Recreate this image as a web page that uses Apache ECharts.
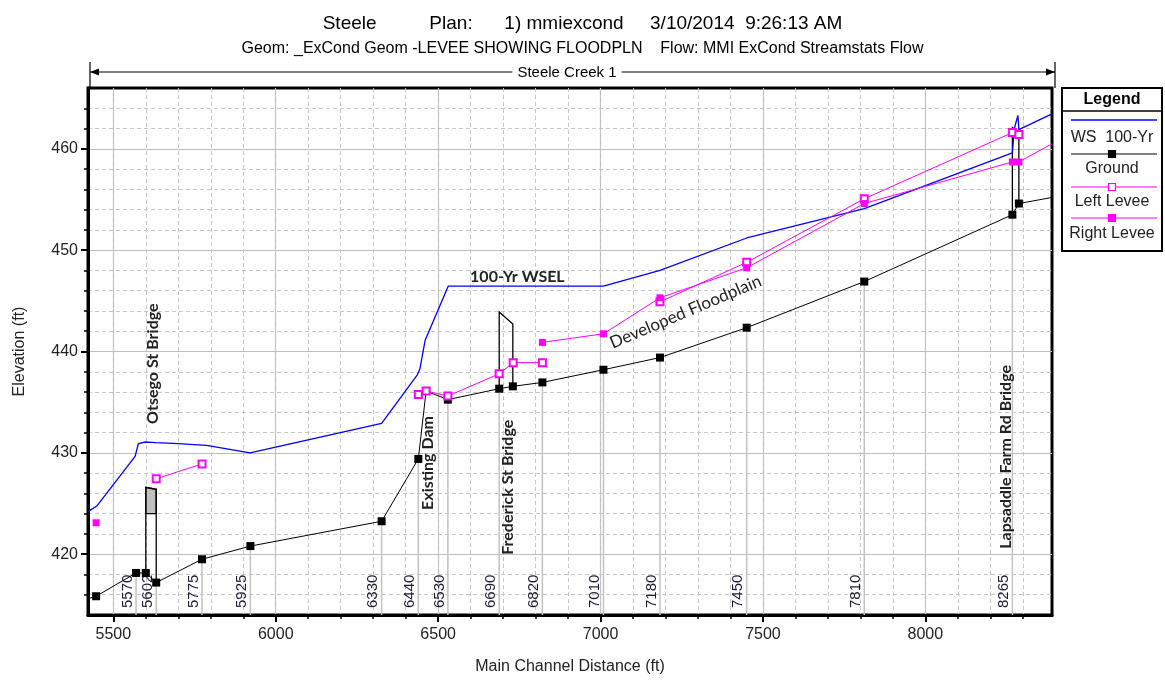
<!DOCTYPE html>
<html><head><meta charset="utf-8">
<script src="https://cdn.jsdelivr.net/npm/echarts@6/dist/echarts.min.js"></script>
<style>html,body{margin:0;padding:0;background:#fff}#c{width:1165px;height:680px}</style>
</head><body><div id="c"></div>
<script>
// ---------- data ----------
const titleMain = 'Steele          Plan:      1) mmiexcond     3/10/2014  9:26:13 AM';
const titleSub = 'Geom: _ExCond Geom -LEVEE SHOWING FLOODPLN    Flow: MMI ExCond Streamstats Flow';
const reachName = 'Steele Creek 1';
const xMin = 5422, xMax = 8390, yMin = 414, yMax = 466;
const xMajorTicks = [5500, 6000, 6500, 7000, 7500, 8000];
const xMinorTicks = [5500,5600,5700,5800,5900,6000,6100,6200,6300,6400,6500,6600,6700,6800,6900,7000,7100,7200,7300,7400,7500,7600,7700,7800,7900,8000,8100,8200,8300];
const yMajorTicks = [420, 430, 440, 450, 460];
const yMinorTicks = [416,418,420,422,424,426,428,430,432,434,436,438,440,442,444,446,448,450,452,454,456,458,460,462,464];

const wsX = [5422, 5449, 5567, 5577, 5598, 5631, 5700, 5787, 5921, 6326, 6436, 6444, 6460, 6531, 7009, 7183, 7450, 7812, 8268, 8274, 8285, 8288, 8390];
const wsY = [424.2, 424.75, 429.65, 430.9, 431.07, 431.0, 430.9, 430.74, 430.0, 432.9, 437.7, 438.3, 441.1, 446.45, 446.45, 448.0, 451.2, 454.1, 459.6, 462.0, 463.3, 461.9, 463.45];

const groundX = [5422, 5447, 5570, 5600, 5632, 5773, 5922, 6326, 6439, 6463, 6530, 6688, 6730, 6821, 7009, 7183, 7450, 7812, 8268, 8288, 8390];
const groundY = [415.6, 415.85, 418.15, 418.15, 417.2, 419.5, 420.8, 423.25, 429.4, 436.1, 435.25, 436.33, 436.56, 436.95, 438.2, 439.4, 442.35, 446.9, 453.5, 454.6, 455.2];

const leftLeveeX = [5632, 5773, 5773, 6439, 6463, 6530, 6688, 6731, 6821, 6821, 7183, 7450, 7812, 8268, 8288];
const leftLeveeY = [427.45, 428.9, null, 435.75, 436.1, 435.6, 437.8, 438.9, 438.9, null, 444.9, 448.8, 455.07, 461.6, 461.4];

const rightLeveeX = [5447, 5447, 6821, 7009, 7183, 7450, 7812, 8268, 8288, 8390];
const rightLeveeY = [423.1, null, 440.9, 441.75, 445.3, 448.26, 454.6, 458.7, 458.7, 460.5];

const stationX = [5570, 5632, 5773, 5922, 6326, 6439, 6530, 6688, 6821, 7009, 7183, 7450, 7812, 8268];
const stationLabels = ['5570', '5602', '5775', '5925', '6330', '6440', '6530', '6690', '6820', '7010', '7180', '7450', '7810', '8265'];

const bridgeUpX = [5600, 6688, 8268];
const bridgeDnX = [5632, 6730, 8288];
const bridgeUpGround = [418.15, 436.33, 453.5];
const bridgeDnGround = [417.2, 436.56, 454.6];
const bridgeTopUp = [426.6, 443.9, 462.1];
const bridgeTopDn = [426.4, 442.7, 461.6];
const bridgeLowChord = [424.0, null, null];

const annotText = ['Otsego St Bridge', 'Existing Dam', 'Frederick St Bridge', 'Lapsaddle Farm Rd Bridge', '100-Yr WSEL', 'Developed Floodplain'];
const annotX = [5622, 6469, 6714, 8248, 6744, 7262];
const annotY = [438.8, 429.0, 426.6, 429.6, 447.4, 443.9];
const annotAngle = [90, 90, 90, 90, 0, 23];

const legendNames = ['WS  100-Yr', 'Ground', 'Left Levee', 'Right Levee'];

// ---------- build ----------
const FONT = '"Liberation Sans", Arial, sans-serif';
const AFONT = 'Lato, "Open Sans", sans-serif';
function pts(xs, ys) {
  return xs.map((x, i) => {
    const y = ys[i];
    const item = { value: [x, y == null ? '-' : y] };
    if (x <= xMin || x >= xMax) item.symbol = 'none';
    return item;
  });
}
function groundAt(x) { return groundY[groundX.indexOf(x)]; }

const chart = echarts.init(document.getElementById('c'));
const G = { left: 88, top: 88, width: 964, height: 527 };

const option = {
  animation: false,
  backgroundColor: '#fff',
  title: [
    { text: titleMain, left: 'center', top: 9, textStyle: { fontFamily: FONT, fontSize: 19, fontWeight: 'normal', color: '#000' } },
    { text: titleSub, left: 'center', top: 36, textStyle: { fontFamily: FONT, fontSize: 16, fontWeight: 'normal', color: '#000' } }
  ],
  grid: { left: G.left, top: G.top, width: G.width, height: G.height, show: true, borderColor: '#000', borderWidth: 3, backgroundColor: 'transparent' },
  xAxis: [
    {
      type: 'value', min: xMin, max: xMax, position: 'bottom',
      name: 'Main Channel Distance (ft)', nameLocation: 'middle', nameGap: 44,
      nameTextStyle: { fontFamily: FONT, fontSize: 16, color: '#222' },
      axisLine: { show: true, onZero: false, lineStyle: { color: '#000', width: 3 } },
      axisTick: { show: true, customValues: xMajorTicks, length: 7, lineStyle: { color: '#000', width: 2 } },
      axisLabel: { show: true, customValues: xMajorTicks, margin: 12, fontFamily: FONT, fontSize: 16, color: '#222', formatter: v => String(v) },
      splitLine: { show: true, lineStyle: { color: '#bdbdbd', width: 1.2 } }
    },
    {
      type: 'value', min: xMin, max: xMax, position: 'bottom',
      axisLine: { show: false, onZero: false },
      axisTick: { show: true, customValues: xMinorTicks, length: 4, lineStyle: { color: '#000', width: 1.5 } },
      axisLabel: { show: false },
      splitLine: { show: true, lineStyle: { color: '#c6c6c6', width: 1, type: [4, 3] } }
    }
  ],
  yAxis: [
    {
      type: 'value', min: yMin, max: yMax, position: 'left',
      axisLine: { show: false, onZero: false },
      axisTick: { show: true, customValues: yMinorTicks, length: 4, lineStyle: { color: '#000', width: 1.5 } },
      axisLabel: { show: false },
      splitLine: { show: true, lineStyle: { color: '#c6c6c6', width: 1, type: [4, 3] } }
    },
    {
      type: 'value', min: yMin, max: yMax, position: 'left',
      name: 'Elevation (ft)', nameLocation: 'middle', nameGap: 60, nameRotate: 90,
      nameTextStyle: { fontFamily: FONT, fontSize: 16, color: '#222' },
      axisLine: { show: true, onZero: false, lineStyle: { color: '#000', width: 3 } },
      axisTick: { show: true, customValues: yMajorTicks, length: 7, lineStyle: { color: '#000', width: 2 } },
      axisLabel: { show: true, customValues: yMajorTicks, margin: 10, fontFamily: FONT, fontSize: 16, color: '#222', formatter: v => String(v) },
      splitLine: { show: true, lineStyle: { color: '#bdbdbd', width: 1.2 } }
    }
  ],
  series: [
    {
      name: 'stations', type: 'custom', xAxisIndex: 0, yAxisIndex: 1, z: 1, silent: true,
      data: stationX.map((x, i) => [x, groundAt(x), i]),
      encode: { x: 0, y: 1 },
      renderItem: function (params, api) {
        const x = api.value(0), g = api.value(1), i = api.value(2);
        const b = api.coord([x, yMin]);
        const t = api.coord([x, g]);
        return {
          type: 'group', children: [
            { type: 'line', shape: { x1: b[0], y1: b[1], x2: t[0], y2: t[1] }, style: { stroke: '#c2c2c2', lineWidth: 1.5 } },
            { type: 'text', x: b[0] - 1, y: b[1] - 7, rotation: Math.PI / 2,
              style: { text: stationLabels[i], fill: '#1d1d33', fontFamily: FONT, fontSize: 15, align: 'left', verticalAlign: 'bottom' } }
          ]
        };
      }
    },
    {
      name: 'bridges', type: 'custom', xAxisIndex: 0, yAxisIndex: 1, z: 2, silent: true,
      data: bridgeUpX.map((x, i) => [x, bridgeTopUp[i], i]),
      encode: { x: 0, y: 1 },
      renderItem: function (params, api) {
        const i = api.value(2);
        const p1 = api.coord([bridgeUpX[i], bridgeUpGround[i]]);
        const p2 = api.coord([bridgeUpX[i], bridgeTopUp[i]]);
        const p3 = api.coord([bridgeDnX[i], bridgeTopDn[i]]);
        const p4 = api.coord([bridgeDnX[i], bridgeDnGround[i]]);
        const children = [];
        if (bridgeLowChord[i] != null) {
          const l1 = api.coord([bridgeUpX[i], bridgeLowChord[i]]);
          const l2 = api.coord([bridgeDnX[i], bridgeLowChord[i]]);
          children.push({ type: 'polygon', shape: { points: [l1, p2, p3, l2] }, style: { fill: '#c0c0c0', stroke: '#000', lineWidth: 1.2 } });
        }
        children.push({ type: 'polyline', shape: { points: [p1, p2, p3, p4] }, style: { fill: null, stroke: '#000', lineWidth: 1.3 } });
        return { type: 'group', children: children };
      }
    },
    {
      name: legendNames[0], type: 'line', xAxisIndex: 0, yAxisIndex: 1, z: 3,
      data: pts(wsX, wsY), showSymbol: false, symbol: 'none',
      lineStyle: { color: '#0000ff', width: 1.3 }, itemStyle: { color: '#0000ff' }
    },
    {
      name: legendNames[1], type: 'line', xAxisIndex: 0, yAxisIndex: 1, z: 4,
      data: pts(groundX, groundY), symbol: 'rect', symbolSize: 8, showSymbol: true,
      lineStyle: { color: '#000', width: 1 }, itemStyle: { color: '#000' }
    },
    {
      name: legendNames[2], type: 'line', xAxisIndex: 0, yAxisIndex: 1, z: 5,
      data: pts(leftLeveeX, leftLeveeY), symbol: 'emptyRect', symbolSize: 7, showSymbol: true, connectNulls: false,
      lineStyle: { color: '#ff00ff', width: 1 }, itemStyle: { color: '#ff00ff', borderWidth: 1.2 }
    },
    {
      name: legendNames[3], type: 'line', xAxisIndex: 0, yAxisIndex: 1, z: 5,
      data: pts(rightLeveeX, rightLeveeY), symbol: 'rect', symbolSize: 7, showSymbol: true, connectNulls: false,
      lineStyle: { color: '#ff00ff', width: 1 }, itemStyle: { color: '#ff00ff' }
    },
    {
      name: 'annotations', type: 'custom', xAxisIndex: 0, yAxisIndex: 1, z: 6, silent: true,
      data: annotX.map((x, i) => [x, annotY[i], i]),
      encode: { x: 0, y: 1 },
      renderItem: function (params, api) {
        const i = api.value(2);
        const p = api.coord([api.value(0), api.value(1)]);
        const bold = i !== 5;
        return {
          type: 'text', x: p[0], y: p[1], rotation: annotAngle[i] * Math.PI / 180,
          style: { text: annotText[i], fill: '#222', fontFamily: AFONT, fontWeight: bold ? 'bold' : 'normal', fontSize: bold ? 16 : 17, align: 'center', verticalAlign: 'middle' }
        };
      }
    }
  ],
  graphic: buildGraphics()
};

function buildGraphics() {
  const L = 1062, T = 88, W = 100, H = 163, cx = L + W / 2;
  const xl = 1071, xr = 1157;
  const els = [];
  // reach bracket
  const bx1 = G.left + 2, bx2 = G.left + G.width + 3, by = 72;
  els.push({ type: 'line', shape: { x1: bx1, y1: 62, x2: bx1, y2: 88 }, style: { stroke: '#000', lineWidth: 1.2 } });
  els.push({ type: 'line', shape: { x1: bx2, y1: 62, x2: bx2, y2: 88 }, style: { stroke: '#000', lineWidth: 1.2 } });
  els.push({ type: 'line', shape: { x1: bx1, y1: by, x2: bx2, y2: by }, style: { stroke: '#000', lineWidth: 1.2 } });
  els.push({ type: 'polygon', shape: { points: [[bx1, by], [bx1 + 9, by - 3.5], [bx1 + 9, by + 3.5]] }, style: { fill: '#000' } });
  els.push({ type: 'polygon', shape: { points: [[bx2, by], [bx2 - 9, by - 3.5], [bx2 - 9, by + 3.5]] }, style: { fill: '#000' } });
  els.push({ type: 'text', x: 567, y: by + 1, style: { text: reachName, fontFamily: FONT, fontSize: 15, fill: '#000', align: 'center', verticalAlign: 'middle', backgroundColor: '#fff', padding: [2, 5] } });
  // legend box
  els.push({ type: 'rect', shape: { x: L, y: T, width: W, height: H }, style: { fill: '#fff', stroke: '#000', lineWidth: 2 }, z: 10 });
  els.push({ type: 'text', x: cx, y: 100, style: { text: 'Legend', fontFamily: FONT, fontSize: 16, fontWeight: 'bold', fill: '#000', align: 'center', verticalAlign: 'middle' }, z: 11 });
  els.push({ type: 'line', shape: { x1: L, y1: 111, x2: L + W, y2: 111 }, style: { stroke: '#000', lineWidth: 1.5 }, z: 11 });
  const rows = [
    { ly: 120, ty: 138, color: '#0000ff', sym: null },
    { ly: 154, ty: 169, color: '#000', sym: 'fill' },
    { ly: 187, ty: 202, color: '#ff00ff', sym: 'empty' },
    { ly: 218, ty: 234, color: '#ff00ff', sym: 'fill' }
  ];
  rows.forEach((r, i) => {
    els.push({ type: 'line', shape: { x1: xl, y1: r.ly, x2: xr, y2: r.ly }, style: { stroke: r.color, lineWidth: i === 0 ? 1.5 : 1.2 }, z: 11 });
    if (r.sym) {
      els.push({ type: 'rect', shape: { x: cx - 3.5, y: r.ly - 3.5, width: 7, height: 7 }, style: { fill: r.sym === 'fill' ? r.color : '#fff', stroke: r.color, lineWidth: 1.2 }, z: 12 });
    }
    els.push({ type: 'text', x: cx, y: r.ty, style: { text: legendNames[i], fontFamily: FONT, fontSize: 16, fill: '#222', align: 'center', verticalAlign: 'middle' }, z: 11 });
  });
  return els;
}

chart.setOption(option);
</script>
</body></html>
